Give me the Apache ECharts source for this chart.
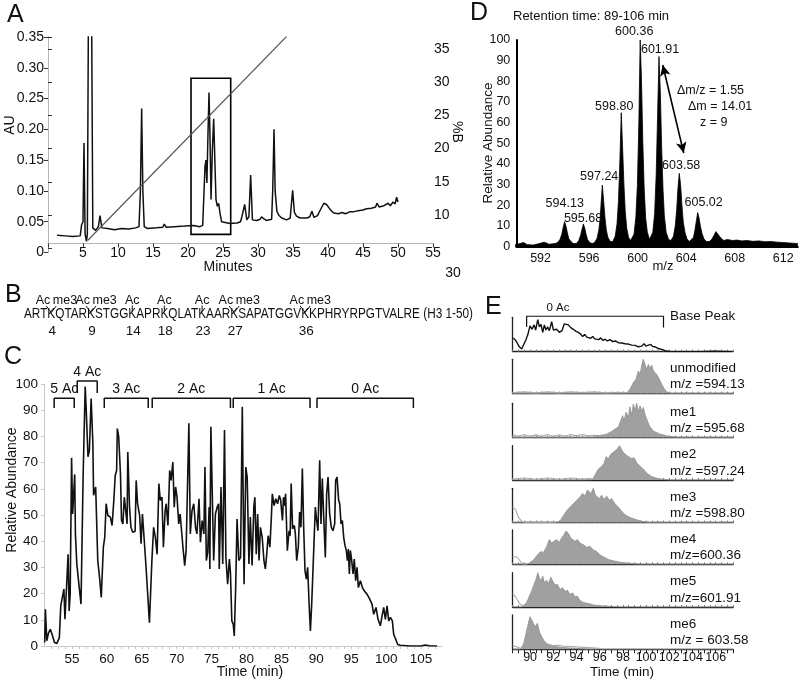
<!DOCTYPE html>
<html><head><meta charset="utf-8">
<script src="https://cdn.jsdelivr.net/npm/echarts@6/dist/echarts.min.js"></script>
<style>html,body{margin:0;padding:0;background:#fff}#c{width:800px;height:683px}</style>
</head><body><div id="c"></div>
<script>
// ---------------- DATA ----------------
// Panel A: UV chromatogram (minutes, AU)
const aTrace = [[1.3,0.028],[2.5,0.027],[3.5,0.026],[4.6,0.027],[4.8,0.045],[5.0,0.05],[5.14,0.178],[5.3,0.03],[5.5,0.018],[5.62,0.03],[5.8,0.45],[6.0,0.6],[6.2,0.45],[6.4,0.04],[6.8,0.036],[7.2,0.042],[7.43,0.06],[7.7,0.04],[7.9,0.037],[8.5,0.039],[9.5,0.037],[10.5,0.039],[11.5,0.038],[12.5,0.04],[13.0,0.042],[13.2,0.1],[13.38,0.234],[13.55,0.1],[13.75,0.042],[14.2,0.039],[15.5,0.04],[16.4,0.041],[16.6,0.046],[16.9,0.041],[18,0.042],[19.5,0.043],[20.8,0.044],[21.7,0.042],[22.1,0.044],[22.3,0.045],[22.43,0.14],[22.57,0.15],[22.7,0.113],[22.85,0.19],[23.0,0.26],[23.14,0.19],[23.29,0.086],[23.48,0.167],[23.67,0.217],[23.86,0.14],[24.0,0.086],[24.19,0.075],[24.38,0.08],[24.57,0.064],[24.8,0.05],[25.0,0.047],[26,0.047],[27.0,0.048],[27.5,0.05],[27.7,0.058],[27.9,0.055],[28.1,0.078],[28.4,0.053],[28.7,0.058],[28.95,0.126],[29.2,0.053],[29.8,0.052],[30.3,0.054],[30.5,0.058],[30.8,0.055],[31.2,0.052],[31.95,0.054],[32.1,0.1],[32.29,0.2],[32.45,0.1],[32.7,0.067],[33.0,0.06],[33.4,0.056],[34.1,0.053],[34.6,0.056],[34.95,0.101],[35.2,0.065],[35.5,0.059],[36.0,0.056],[37.0,0.056],[37.4,0.058],[37.7,0.067],[38.0,0.057],[38.5,0.06],[38.9,0.069],[39.4,0.08],[39.8,0.078],[40.3,0.07],[40.8,0.064],[41.5,0.063],[42.0,0.065],[42.5,0.063],[43.1,0.066],[43.6,0.066],[44.3,0.068],[45.0,0.069],[45.5,0.071],[46.2,0.072],[46.8,0.074],[47.0,0.08],[47.3,0.074],[48.0,0.076],[48.6,0.08],[48.9,0.076],[49.3,0.082],[49.6,0.079],[49.8,0.09],[50.0,0.082]];
const aGradient = [[5.7,6.2],[34.1,36.9]];          // (minutes, %B)
const aBox = [[20.43,0.283],[26.1,0.0295]];          // boxed region (minutes, AU)

// Panel B: sequence and modification sites
const bSequence = 'ARTKQTARKSTGGKAPRKQLATKAARKSAPATGGVKKPHRYRPGTVALRE';
const bSuffix = ' (H3 1-50)';
const bMods = [[4,'Ac','me3'],[9,'Ac','me3'],[14,'Ac',''],[18,'Ac',''],[23,'Ac',''],[27,'Ac','me3'],[36,'Ac','me3']];

// Panel C: total ion chromatogram (min, relative abundance)
const cTrace = [[51.1,1.3],[51.2,14],[51.4,2],[51.65,5],[51.9,6.4],[52.15,4.5],[52.5,1.3],[52.85,1],[53.2,3.2],[53.4,15.3],[53.6,16],[53.85,21.7],[54.0,10.2],[54.2,21],[54.45,35],[54.6,13.4],[54.75,19.8],[54.95,71.8],[55.1,50.4],[55.4,65.5],[55.5,42.8],[55.7,31.3],[56.05,22.3],[56.3,16],[56.6,64.5],[56.9,99],[57.05,90],[57.3,72.2],[57.5,74.7],[57.75,94.5],[58.0,77.3],[58.1,57.5],[58.4,60.7],[58.7,32.6],[59.0,24.9],[59.2,18.5],[59.5,37.7],[59.7,41.5],[59.9,54.3],[60.15,49.8],[60.5,49.2],[60.75,46],[61.0,55.6],[61.2,65.1],[61.4,67],[61.5,83],[61.7,79.8],[61.95,65.8],[62.1,47.9],[62.3,46.6],[62.5,56.8],[62.7,57.5],[62.9,46.6],[63.0,74],[63.25,53],[63.45,45.3],[63.7,43.4],[64.05,43.8],[64.2,63.2],[64.4,54.3],[64.7,49.8],[64.9,39],[65.1,50.4],[65.35,50.4],[65.6,30.7],[65.85,30],[66.1,8.9],[66.45,32.6],[66.7,45.3],[66.95,41.5],[67.2,35],[67.45,62],[67.65,55.6],[67.9,56.8],[68.1,37.7],[68.35,51.7],[68.5,54.3],[68.75,46],[69.0,67],[69.2,63.2],[69.45,70.2],[69.65,53],[69.85,60.7],[70.05,56.8],[70.3,46.6],[70.5,50.4],[70.9,37.7],[71.15,30.7],[71.35,36.4],[71.5,35.8],[71.75,85],[71.95,42.8],[72.2,51.7],[72.45,54.3],[72.7,45.3],[72.9,42.8],[73.2,56.2],[73.4,39.6],[73.65,47.9],[73.9,42.8],[74.05,68.3],[74.25,32.6],[74.45,35.8],[74.65,53],[74.75,29.4],[74.9,83.7],[75.1,58.1],[75.3,32.6],[75.55,50.4],[75.8,53],[76.0,54.3],[76.1,29.4],[76.35,60.7],[76.6,31.3],[76.85,82.4],[77.05,33.8],[77.3,23.6],[77.55,33.2],[77.7,28.1],[77.9,9.6],[78.1,8.3],[78.25,3.8],[78.45,22.3],[78.65,48.5],[78.9,32.6],[79.15,33.8],[79.4,91.3],[79.65,23.6],[79.9,68.3],[80.1,64.5],[80.35,31.3],[80.55,49.2],[80.8,30.7],[81.05,53],[81.2,56.8],[81.4,35],[81.6,50.4],[81.8,32.6],[82.0,45.3],[82.25,41.5],[82.5,32.6],[82.7,29.4],[82.9,35],[83.1,42.1],[83.35,37.7],[83.55,48.5],[83.7,58.1],[83.95,53.6],[84.2,56.2],[84.45,54.3],[84.7,57.5],[84.9,55.6],[85.15,47.9],[85.3,56.8],[85.45,53.6],[85.6,58.1],[85.85,36.4],[86.1,44],[86.25,42.1],[86.4,62],[86.6,44.7],[86.85,46],[87.0,42.8],[87.19,32.6],[87.42,37.7],[87.61,51.1],[87.8,45.3],[88.0,67.7],[88.19,45.3],[88.38,28.7],[88.57,25.5],[88.76,30],[88.95,17.2],[89.15,5.7],[89.34,16],[89.53,15.3],[89.86,53],[90.05,47.9],[90.24,44],[90.48,70.9],[90.67,46.6],[90.86,63.9],[91.06,49.2],[91.29,33.8],[91.48,58.1],[91.68,64.5],[91.91,50.4],[92.15,45.3],[92.39,44],[92.63,46.6],[92.77,63.2],[92.97,64.5],[93.2,55.6],[93.35,54.3],[93.54,46.6],[93.73,47.9],[93.92,41.5],[94.11,38.3],[94.3,36.4],[94.45,32.6],[94.59,37],[94.73,27.5],[94.88,36.4],[95.07,32.6],[95.26,27.5],[95.44,33.2],[95.64,24.9],[95.83,30],[96.02,22.3],[96.31,24.9],[96.6,22.3],[96.88,21],[97.26,19.8],[97.65,17.9],[97.98,16],[98.22,12.1],[98.55,14.7],[98.84,10.2],[99.17,7.7],[99.46,12.1],[99.65,14.7],[99.89,10.2],[100.13,15.3],[100.37,9.6],[100.61,10.9],[100.89,9.6],[101.08,4.5],[101.37,2.6],[101.66,0.6],[102.04,0.3],[103.47,0],[105,0],[105.6,0.4],[106.4,0],[107.3,0]];
// [label, from, to, top, leg]
const cBrackets = [['5 Ac',52.46,55.33,94.6,90.8],['4 Ac',55.76,58.62,101.1,96.6],['3 Ac',59.63,65.93,94.6,90.8],['2 Ac',66.5,77.7,94.6,90.8],['1 Ac',78.1,89.1,94.6,90.8],['0 Ac',90.1,103.9,94.6,90.8]];

// Panel D: mass spectrum (m/z, relative abundance)
const dSpectrum = [[589.9,1],[590.3,1.5],[590.6,2],[590.9,1],[591.4,0.8],[591.9,1.5],[592.3,2.2],[592.7,1.2],[593.2,1.5],
[593.4,2],[593.6,3.5],[593.75,6],[593.87,9.5],[593.98,12.1],[594.09,10],[594.2,7],[594.32,4],[594.5,2.5],[594.7,1.5],
[594.95,1.5],[595.15,3],[595.3,5.5],[595.42,8.5],[595.53,11],[595.64,9],[595.75,6],[595.87,3.5],[596.05,2],[596.25,1.5],
[596.45,2],[596.65,4],[596.8,8],[596.9,13],[596.98,20],[597.09,29.8],[597.2,22],[597.31,14],[597.42,8],[597.55,4.5],[597.75,2.5],
[597.95,2.5],[598.15,5],[598.3,11],[598.42,22],[598.54,42],[598.65,64.8],[598.76,48],[598.87,30],[598.98,17],[599.1,9],[599.25,4.5],[599.42,3],
[599.5,3],[599.7,6],[599.85,14],[599.98,30],[600.1,60],[600.21,100],[600.32,80],[600.43,50],[600.54,28],[600.66,14],[600.8,7],[600.98,3.5],
[601.05,3.5],[601.25,7],[601.4,16],[601.53,35],[601.65,65],[601.76,92],[601.87,75],[601.98,48],[602.09,28],[602.2,15],[602.35,7],[602.55,3.5],
[602.75,3],[602.95,5],[603.1,10],[603.22,18],[603.32,28],[603.43,35.5],[603.54,30],[603.65,20],[603.76,12],[603.9,7],[604.05,4],[604.25,2.5],
[604.4,2.5],[604.6,4.5],[604.72,8],[604.84,12.5],[604.95,16.5],[605.06,14],[605.17,10],[605.3,6.5],[605.45,4],[605.65,2.5],
[605.9,2.5],[606.1,3.5],[606.3,5.5],[606.45,7.3],[606.6,6.5],[606.75,5],[606.9,4],[607.1,3],
[607.4,3.5],[607.8,3],[608.2,3.2],[608.6,2.8],[609,3],[609.5,2.6],[610,2.8],[610.5,2.4],[611,2.5],[611.5,2.2],[612,2],[612.5,1.8],[613,1.6],[613.2,1.5]];
const dPeakLabels = ['594.13','595.68','597.24','598.80','600.36','601.91','603.58','605.02'];
const dPeakAnchors = [[593.99,21],[595.5,13.7],[596.83,33.9],[598.07,67.7],[599.72,104],[601.85,95.5],[603.59,39.2],[605.44,21.3]];
const dArrow = [[602.07,87.9],[603.8,45.3]];
const dNotes = ['\u0394m/z = 1.55','\u0394m = 14.01','z = 9'];

// Panel E: extracted ion chromatograms (min, relative abundance)
const eBase = [[88.56,40],[88.79,31],[89.07,14],[89.28,7.5],[89.48,23],[89.65,35],[89.82,51],[89.99,75],[90.17,65],[90.34,78],[90.48,63],[90.66,93],[90.8,72],[90.94,79],[91.09,56],[91.23,78],[91.37,63],[91.52,72],[91.66,61],[91.86,87],[92.01,63],[92.15,59],[92.29,65],[92.52,56],[92.75,61],[92.95,81],[93.1,84],[93.3,78],[93.5,70],[93.73,65],[93.96,59],[94.16,56],[94.36,51],[94.53,44],[94.71,50],[94.88,42],[95.05,47],[95.22,39],[95.4,44],[95.57,37],[95.74,42],[95.91,35],[96.09,40],[96.26,33],[96.46,36],[96.66,31],[96.89,35],[97.12,29],[97.35,31],[97.61,26],[97.9,25],[98.18,23],[98.47,22],[98.76,19],[99.05,18],[99.33,14],[99.62,16],[99.82,23],[99.99,16],[100.2,19],[100.4,21],[100.57,15],[100.77,14],[101.06,9],[101.34,6.5],[101.63,3],[102.06,0],[102.93,0],[104.65,0],[105.8,1],[107.38,0]];
const eUnmod = [[88.5,0],[98.3,0],[98.61,13],[98.9,32],[99.13,42],[99.33,66],[99.48,56],[99.62,81],[99.76,100],[99.91,85],[100.05,71],[100.2,85],[100.34,73],[100.48,83],[100.63,66],[100.77,71],[100.91,56],[101.14,42],[101.34,27],[101.55,15],[101.78,5],[102.06,1],[102.4,0],[107.5,0]];
const eMe1 = [[88.5,0],[95.5,0],[96.03,6],[96.6,10],[97.03,18],[97.32,25],[97.61,31],[97.81,49],[97.98,64],[98.1,49],[98.27,74],[98.47,59],[98.61,90],[98.76,64],[98.9,98],[99.05,78],[99.19,100],[99.33,74],[99.48,93],[99.62,78],[99.76,88],[99.94,64],[100.11,49],[100.28,34],[100.48,25],[100.68,18],[100.91,15],[101.2,10],[101.49,8],[101.78,5],[102.35,2],[102.8,0],[107.5,0]];
const eMe2 = [[88.5,0],[95.2,0],[95.45,5],[95.68,20],[95.89,32],[96.17,40],[96.37,48],[96.55,68],[96.75,62],[96.95,75],[97.12,70],[97.32,85],[97.52,90],[97.7,100],[97.87,90],[98.04,80],[98.21,85],[98.39,70],[98.56,75],[98.76,62],[98.96,65],[99.19,50],[99.48,40],[99.76,32],[100.05,20],[100.48,10],[100.91,5],[101.49,2],[102,0],[107.5,0]];
const eMe3 = [[88.5,0],[92.3,0],[92.58,5],[92.87,20],[93.16,35],[93.44,45],[93.73,55],[94.02,65],[94.3,75],[94.53,85],[94.74,77],[94.94,95],[95.11,100],[95.25,85],[95.45,100],[95.63,80],[95.8,85],[95.97,70],[96.17,80],[96.37,67],[96.6,77],[96.83,65],[97.03,70],[97.32,55],[97.61,45],[97.9,33],[98.18,23],[98.61,15],[99.19,8],[99.76,3],[100.34,0],[107.5,0]];
const eMe4 = [[88.5,0],[89.6,0],[89.85,2],[90.28,12],[90.63,27],[90.91,37],[91.14,34],[91.43,52],[91.66,72],[91.86,62],[92.06,67],[92.29,72],[92.52,64],[92.72,77],[92.93,87],[93.1,97],[93.3,90],[93.5,77],[93.67,82],[93.87,67],[94.07,72],[94.3,62],[94.59,57],[94.88,50],[95.17,52],[95.45,42],[95.74,37],[96.03,27],[96.32,22],[96.75,14],[97.18,10],[97.75,6],[98.33,4],[98.9,2],[99.76,0],[107.5,0]];
const eMe5 = [[88.5,0],[89.3,0],[89.42,1],[89.71,13],[89.94,32],[90.14,47],[90.34,66],[90.51,81],[90.66,100],[90.8,85],[90.94,76],[91.09,90],[91.23,71],[91.43,78],[91.57,66],[91.78,87],[91.95,76],[92.15,64],[92.35,66],[92.58,51],[92.81,56],[93.01,45],[93.21,49],[93.44,37],[93.67,41],[93.87,29],[94.07,32],[94.3,19],[94.59,13],[95.02,10],[95.45,6],[96.03,4],[96.89,2],[97.75,0],[107.5,0]];
const eMe6 = [[88.5,0],[89.1,0],[89.19,1],[89.42,13],[89.65,47],[89.85,76],[89.99,95],[90.14,90],[90.28,76],[90.45,66],[90.63,76],[90.8,51],[91.0,37],[91.2,25],[91.43,17],[91.72,12],[92.15,8],[92.72,6],[93.44,4],[94.3,2],[95.17,0],[107.5,0]];
const eGhost = [
  [[[88.5,3],[89.5,5],[90.5,2],[91.5,5],[92.5,2],[93.5,5],[94.5,3],[95.5,5],[96.5,2],[97.5,4],[98.3,3]]],
  [[[88.5,8],[89,4],[89.5,9],[90,4],[90.5,8],[91,4],[91.5,9],[92,4],[92.5,8],[93,4],[93.5,9],[94,5],[94.5,9],[95,5],[95.5,7],[96,6]]],
  [[[88.5,3],[89.5,6],[90.5,2],[91.5,6],[92.5,2],[93.5,6],[94.5,3],[95.3,5]]],
  [[[88.5,45],[88.75,38],[89.0,15],[89.3,3],[89.6,1],[90.5,2],[91.5,1],[92.3,2]]],
  [[[88.5,22],[88.85,22],[89.2,7],[89.5,0],[89.8,2]]],
  [[[88.5,39],[88.79,27],[89.14,8],[89.42,3]]],
  [[[88.5,10],[88.79,8],[89.14,3],[89.3,2]],[[91.6,14],[92.0,11],[92.4,12],[92.9,9],[93.4,9],[94,7],[95,5],[96,3]]]
];
const eFilled = [eUnmod, eMe1, eMe2, eMe3, eMe4, eMe5, eMe6];
const eNames = ['Base Peak','unmodified','me1','me2','me3','me4','me5','me6'];
const eMz = ['','m/z =594.13','m/z =595.68','m/z =597.24','m/z =598.80','m/z=600.36','m/z=601.91','m/z = 603.58'];
const eBracket = ['0 Ac', 89.7, 101.5, 103, 72, 70, 92.4];

// ---------------- CHART ----------------
const FONT = '"Liberation Sans", Arial, Helvetica, sans-serif';
const chart = echarts.init(document.getElementById('c'), null, {renderer:'canvas', width:800, height:683});
const E_TOPS = [317.3, 359.3, 403.3, 445.7, 488.3, 530, 572.7, 615];
const G = (o)=>Object.assign({containLabel:false, outerBoundsMode:'none'}, o);
const grids = [
  G({left:48, top:37, width:385, height:215.5}),
  G({left:48, top:37, width:385, height:211.2}),
  G({left:44, top:384, width:398, height:262}),
  G({left:516.3, top:40, width:281.5, height:206.7})
];
E_TOPS.forEach(t=>grids.push(G({left:512.7, top:t, width:220.4, height:34.3})));

const lab = (size, extra)=>Object.assign({fontFamily:FONT, fontSize:size, color:'#111'}, extra||{});
const isInt = v => Math.abs(v-Math.round(v))<1e-6;

const xAxes = [
  {gridIndex:0, type:'value', min:0, max:55, interval:5, offset:-9,
   axisLine:{onZero:false, lineStyle:{color:'#b5b5b5', width:1}}, axisTick:{length:4, lineStyle:{color:'#333'}},
   splitLine:{show:false}, axisLabel:lab(14,{margin:3, formatter:v=>v===0?'':String(v)})},
  {gridIndex:1, type:'value', min:0, max:55, show:false, splitLine:{show:false}},
  {gridIndex:2, type:'value', min:51, max:108, interval:1,
   axisLine:{onZero:false, lineStyle:{color:'#c8c8c8'}}, axisTick:{length:3, lineStyle:{color:'#c8c8c8'}},
   splitLine:{show:false}, axisLabel:lab(13.5,{margin:6, showMinLabel:false, showMaxLabel:false, formatter:v=>(isInt(v)&&Math.round(v)%5===0)?String(Math.round(v)):''})},
  {gridIndex:3, type:'value', min:590, max:613.2, interval:2,
   axisLine:{onZero:false, lineStyle:{color:'#000', width:2}}, axisTick:{show:false},
   splitLine:{show:false}, axisLabel:lab(12.5,{margin:5, showMaxLabel:false, formatter:v=>(isInt(v)&&(Math.round(v)-592)%4===0)?String(Math.round(v)):''})}
];
E_TOPS.forEach((t,i)=>{
  const last = i===E_TOPS.length-1;
  xAxes.push({gridIndex:4+i, type:'value', min:88.5, max:107.5, interval:0.5,
    axisLine:{onZero:false, lineStyle:{color:'#222', width:1.3}},
    axisTick:{show:true, length:last?4:2, inside:!last, lineStyle:{color:last?'#222':'#777'}},
    splitLine:{show:false},
    axisLabel:lab(12.5,{show:last, margin:2, formatter:v=>(isInt(v)&&Math.round(v)%2===0&&v>=90)?String(Math.round(v)):''})});
});

const yAxes = [
  {gridIndex:0, type:'value', min:0, max:0.35, interval:0.05,
   axisLine:{show:true, lineStyle:{color:'#b5b5b5'}}, axisTick:{show:true, length:4, lineStyle:{color:'#333'}},
   splitLine:{show:false}, axisLabel:lab(14,{margin:4, formatter:v=>v===0?'0':v.toFixed(2)})},
  {gridIndex:1, type:'value', position:'right', min:5, max:36.8, interval:5,
   axisLine:{show:true, lineStyle:{color:'#b5b5b5'}}, axisTick:{show:true, length:4, lineStyle:{color:'#333'}},
   splitLine:{show:false}, axisLabel:lab(14,{margin:1, formatter:v=>(isInt(v)&&Math.round(v)%5===0&&v>=10)?String(Math.round(v)):''})},
  {gridIndex:2, type:'value', min:0, max:100, interval:10,
   axisLine:{show:true, lineStyle:{color:'#c8c8c8'}}, axisTick:{show:true, length:3, lineStyle:{color:'#c8c8c8'}},
   splitLine:{show:false}, axisLabel:lab(13.5,{margin:6})},
  {gridIndex:3, type:'value', min:0, max:100, interval:10,
   axisLine:{show:true, lineStyle:{color:'#000', width:2}}, axisTick:{show:false},
   splitLine:{show:false}, axisLabel:lab(12.5,{margin:6})}
];
E_TOPS.forEach((t,i)=>{
  yAxes.push({gridIndex:4+i, type:'value', min:0, max:100, axisLine:{show:true, lineStyle:{color:'#222', width:1.3}},
    axisTick:{show:false}, axisLabel:{show:false}, splitLine:{show:false}});
});

const series = [];
series.push({type:'line', xAxisIndex:0, yAxisIndex:0, data:aTrace, symbol:'none', silent:true,
  lineStyle:{color:'#111', width:1.5},
  markArea:{silent:true, itemStyle:{color:'rgba(0,0,0,0)', borderColor:'#000', borderWidth:1.6},
    data:[[{coord:aBox[0]},{coord:aBox[1]}]]}});
series.push({type:'line', xAxisIndex:1, yAxisIndex:1, data:aGradient, symbol:'none', silent:true,
  lineStyle:{color:'#555', width:1.2}});
series.push({type:'line', xAxisIndex:2, yAxisIndex:2, data:cTrace, symbol:'none', silent:true,
  lineStyle:{color:'#111', width:1.6}});
cBrackets.forEach(b=>{
  series.push({type:'line', xAxisIndex:2, yAxisIndex:2, clip:false, symbol:'none', silent:true,
    data:[[b[1],b[4]],[b[1],b[3]],[b[2],b[3]],[b[2],b[4]]], lineStyle:{color:'#111', width:1.5}});
});
series.push({type:'line', xAxisIndex:3, yAxisIndex:3, data:dSpectrum, symbol:'none', silent:true,
  lineStyle:{color:'#000', width:0.8}, areaStyle:{color:'#000', opacity:1},
  markLine:{silent:true, symbol:['arrow','arrow'], symbolSize:[8,11], label:{show:false},
    lineStyle:{color:'#000', width:1.6, type:'solid'},
    data:[[{coord:dArrow[0]},{coord:dArrow[1]}]]}});
series.push({type:'line', xAxisIndex:4, yAxisIndex:4, data:eBase, symbol:'none', silent:true,
  lineStyle:{color:'#111', width:1.4}});
series.push({type:'line', xAxisIndex:4, yAxisIndex:4, clip:false, symbol:'none', silent:true,
  data:[[eBracket[1],eBracket[4]],[eBracket[1],eBracket[3]],[eBracket[2],eBracket[3]],[eBracket[2],eBracket[5]]],
  lineStyle:{color:'#111', width:1.2}});
eFilled.forEach((d,k)=>{
  series.push({type:'line', xAxisIndex:5+k, yAxisIndex:5+k, data:d, symbol:'none', silent:true,
    lineStyle:{color:'#8f8f8f', width:0.8}, areaStyle:{color:'#a0a0a0', opacity:1}, z:2});
  eGhost[k].forEach(seg=>{
    series.push({type:'line', xAxisIndex:5+k, yAxisIndex:5+k, data:seg, symbol:'none', silent:true,
      lineStyle:{color:'#aaaaaa', width:1.1}, z:3});
  });
});

chart.setOption({animation:false, backgroundColor:'#fff', grid:grids, xAxis:xAxes, yAxis:yAxes, series:series});

// ---------------- TEXT / ANNOTATIONS ----------------
const gfx = [];
function T(x,y,text,size,opt){
  opt = opt||{};
  gfx.push({type:'text', x:x, y:y, rotation:opt.rot||0, scaleX:opt.sx||1, silent:true, z:100,
    style:{text:text, fill:opt.fill||'#111', fontSize:size, fontFamily:FONT, align:opt.align||'left', verticalAlign:'middle'}});
}
function L(points, w){
  gfx.push({type:'polyline', silent:true, z:100, shape:{points:points}, style:{stroke:'#111', lineWidth:w||1, fill:null}});
}
// Panel letters
T(7,15,'A',25); T(5,295,'B',25); T(4,357,'C',25); T(470,13,'D',25); T(485,307,'E',25);
// Panel A
T(10,125,'AU',14,{rot:Math.PI/2, align:'center'});
T(228,267,'Minutes',14,{align:'center'});
T(457,132,'%B',14,{rot:-Math.PI/2, align:'center'});
T(453,273,'30',14,{align:'center'});
// Panel B
(function(){
  const fs = 14;
  const ctx = document.createElement('canvas').getContext('2d');
  ctx.font = fs+'px '+FONT;
  const full = bSequence + bSuffix;
  const sx = (473-24)/ctx.measureText(full).width;
  T(24,314,full,fs,{sx:sx});
  bMods.forEach(m=>{
    const pre = ctx.measureText(bSequence.slice(0,m[0]-1)).width;
    const w = ctx.measureText(bSequence[m[0]-1]).width;
    const kx = 24 + (pre + w/2)*sx;
    if (m[2]) {
      L([[kx-5,306],[kx,312.5],[kx+5,306]],1);
      T(kx-1,300.5,m[1],12.5,{align:'right'});
      T(kx+1.5,300.5,m[2],12.5,{align:'left'});
    } else {
      L([[kx,305.5],[kx,312]],1);
      T(kx,300.5,m[1],12.5,{align:'center'});
    }
    T(kx+1,331,String(m[0]),13.5,{align:'center'});
  });
})();
// Panel C
T(12,490,'Relative Abundance',14,{rot:Math.PI/2, align:'center'});
T(250,672,'Time (min)',14,{align:'center'});
cBrackets.forEach(b=>{
  const p = chart.convertToPixel({xAxisIndex:2, yAxisIndex:2}, [(b[1]+b[2])/2, b[3]]);
  T(p[0], p[1]-9, b[0], 14, {align:'center'});
});
// Panel D
T(513,16,'Retention time: 89-106 min',13);
T(488,143,'Relative Abundance',13.5,{rot:Math.PI/2, align:'center'});
T(663,266,'m/z',13,{align:'center'});
dPeakLabels.forEach((s,i)=>{
  const p = chart.convertToPixel({xAxisIndex:3, yAxisIndex:3}, dPeakAnchors[i]);
  T(p[0], p[1], s, 12.5, {align:'center'});
});
T(677,91,dNotes[0],12.5); T(688,107,dNotes[1],12.5); T(700,123,dNotes[2],12.5);
// Panel E
eNames.forEach((n,i)=>{
  const top = E_TOPS[i];
  if (i===0) { T(670,316,n,13.5); }
  else { T(670,top+9,n,13.5); T(670,top+34.3-9,eMz[i],13.5); }
});
(function(){
  const p = chart.convertToPixel({xAxisIndex:4, yAxisIndex:4}, [eBracket[6], eBracket[3]]);
  T(p[0], p[1]-8, eBracket[0], 11.5, {align:'center'});
})();
T(622,672,'Time (min)',13.5,{align:'center'});

chart.setOption({graphic:gfx});
</script></body></html>
